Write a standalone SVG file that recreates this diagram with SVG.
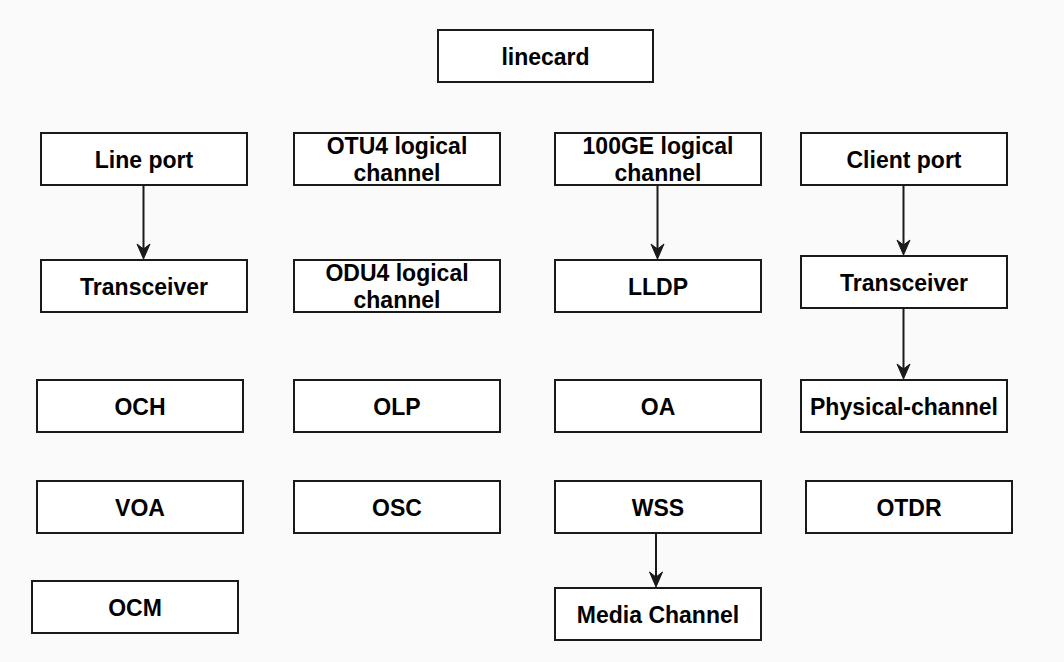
<svg xmlns="http://www.w3.org/2000/svg" width="1064" height="662" viewBox="0 0 1064 662">
<style>
.box{fill:#ffffff;stroke:#1a1a1a;stroke-width:2}
.lbl{font-family:"Liberation Sans",Arial,Helvetica,sans-serif;font-weight:bold;font-size:23px;fill:#000;text-anchor:middle}
.edge{stroke:#1a1a1a;stroke-width:2;fill:none}
.head{fill:#1a1a1a;stroke:#1a1a1a;stroke-width:1}
</style>
<rect x="0" y="0" width="1064" height="662" fill="#fafafa"/>
<g id="linecard"><rect class="box" x="438" y="30" width="215" height="52"/><text class="lbl" x="545.5" y="64.5">linecard</text></g>
<g id="lineport"><rect class="box" x="41" y="133" width="206" height="52"/><text class="lbl" x="144" y="167.5">Line port</text></g>
<g id="transceiver-line"><rect class="box" x="41" y="260" width="206" height="52"/><text class="lbl" x="144" y="294.5">Transceiver</text></g>
<g id="otu4"><rect class="box" x="294" y="133" width="206" height="52"/><text class="lbl" x="397" y="154">OTU4 logical</text><text class="lbl" x="397" y="181">channel</text></g>
<g id="odu4"><rect class="box" x="294" y="260" width="206" height="52"/><text class="lbl" x="397" y="281">ODU4 logical</text><text class="lbl" x="397" y="308">channel</text></g>
<g id="ge100"><rect class="box" x="555" y="133" width="206" height="52"/><text class="lbl" x="658" y="154">100GE logical</text><text class="lbl" x="658" y="181">channel</text></g>
<g id="lldp"><rect class="box" x="555" y="260" width="206" height="52"/><text class="lbl" x="658" y="294.5">LLDP</text></g>
<g id="clientport"><rect class="box" x="801" y="133" width="206" height="52"/><text class="lbl" x="904" y="167.5">Client port</text></g>
<g id="transceiver-client"><rect class="box" x="801" y="256" width="206" height="52"/><text class="lbl" x="904" y="290.5">Transceiver</text></g>
<g id="och"><rect class="box" x="37" y="380" width="206" height="52"/><text class="lbl" x="140" y="414.5">OCH</text></g>
<g id="olp"><rect class="box" x="294" y="380" width="206" height="52"/><text class="lbl" x="397" y="414.5">OLP</text></g>
<g id="oa"><rect class="box" x="555" y="380" width="206" height="52"/><text class="lbl" x="658" y="414.5">OA</text></g>
<g id="physical"><rect class="box" x="801" y="380" width="206" height="52"/><text class="lbl" x="904" y="414.5">Physical-channel</text></g>
<g id="voa"><rect class="box" x="37" y="481" width="206" height="52"/><text class="lbl" x="140" y="515.5">VOA</text></g>
<g id="osc"><rect class="box" x="294" y="481" width="206" height="52"/><text class="lbl" x="397" y="515.5">OSC</text></g>
<g id="wss"><rect class="box" x="555" y="481" width="206" height="52"/><text class="lbl" x="658" y="515.5">WSS</text></g>
<g id="otdr"><rect class="box" x="806" y="481" width="206" height="52"/><text class="lbl" x="909" y="515.5">OTDR</text></g>
<g id="ocm"><rect class="box" x="32" y="581" width="206" height="52"/><text class="lbl" x="135" y="615.5">OCM</text></g>
<g id="mediachannel"><rect class="box" x="555" y="588" width="206" height="52"/><text class="lbl" x="658" y="622.5">Media Channel</text></g>
<g id="connectors">
<line class="edge" x1="143.5" y1="185" x2="143.5" y2="252"/>
<path class="head" d="M143.5 259 L137 244 L143.5 249 L150 244 Z"/>
<line class="edge" x1="657.5" y1="185" x2="657.5" y2="252"/>
<path class="head" d="M657.5 259 L651 244 L657.5 249 L664 244 Z"/>
<line class="edge" x1="903.5" y1="185" x2="903.5" y2="248"/>
<path class="head" d="M903.5 255 L897 240 L903.5 245 L910 240 Z"/>
<line class="edge" x1="903.5" y1="308" x2="903.5" y2="372"/>
<path class="head" d="M903.5 379 L897 364 L903.5 369 L910 364 Z"/>
<line class="edge" x1="656" y1="533" x2="656" y2="580"/>
<path class="head" d="M656 587 L649.5 572 L656 577 L662.5 572 Z"/>
</g>
</svg>
